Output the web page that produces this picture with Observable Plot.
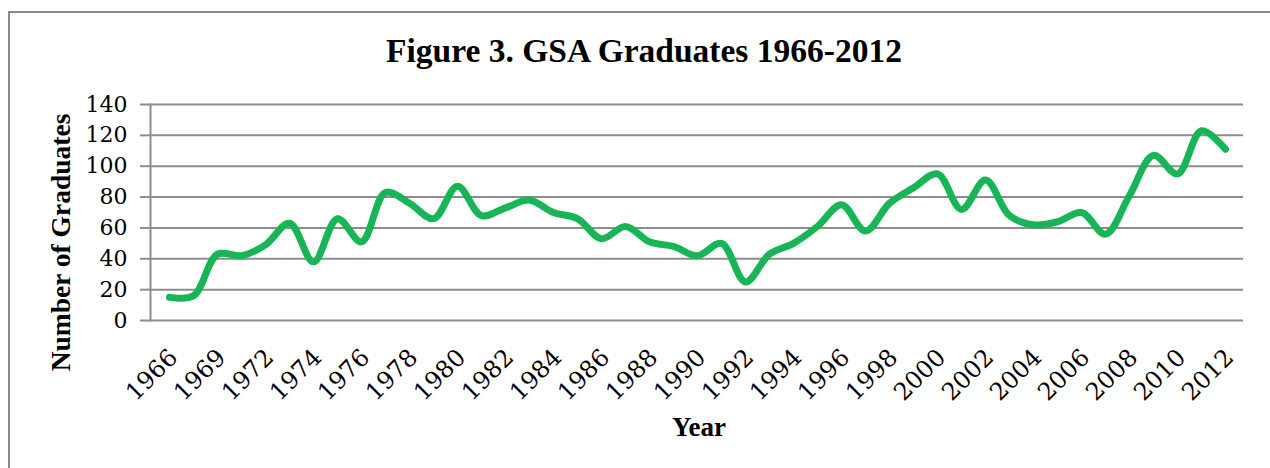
<!DOCTYPE html>
<html>
<head>
<meta charset="utf-8">
<script src="https://cdn.jsdelivr.net/npm/d3@7"></script>
<script src="https://cdn.jsdelivr.net/npm/@observablehq/plot@0.6"></script>
<style>
  html, body { margin: 0; padding: 0; background: #fff; }
  #wrap { position: relative; width: 1270px; height: 468px; overflow: hidden; }
  #border { position: absolute; left: 8px; top: 11px; width: 1300px; height: 500px; border: 2px solid #8a8a8a; box-sizing: border-box; }
  #titlebox { position: relative; height: 90px; }
  #title { position: absolute; left: 0; width: 1288px; top: 34px; line-height: 33px; text-align: center;
           font-family: "Liberation Serif", serif; font-weight: bold; font-size: 33.5px; color: #000; }
  #chart { position: relative; }
  #chart svg { overflow: visible; }
</style>
</head>
<body>
<div id="wrap">
  <div id="border"></div>
  <div id="titlebox"><div id="title">Figure 3. GSA Graduates 1966-2012</div></div>
  <div id="chart"></div>
</div>
<script>
const years = ["1966","1967","1969","1970","1972","1973","1974","1975","1976","1977","1978","1979","1980","1981","1982","1983","1984","1985","1986","1987","1988","1989","1990","1991","1992","1993","1994","1995","1996","1997","1998","1999","2000","2001","2002","2003","2004","2005","2006","2007","2008","2009","2010","2011","2012"];
const graduates = [15,16,43,42,49,63,38,66,51,83,76,66,87,68,73,78,70,66,53,61,51,48,42,50,25,43,50,61,75,58,76,86,95,72,91,68,62,64,70,56,81,107,95,123,111];
const yTicks = [0,20,40,60,80,100,120,140];
const xLabels = years.filter((d, i) => i % 2 === 0);

const data = years.map((y, i) => ({year: y, value: graduates[i]}));
const grid = "#8c8c8c";

const chart = Plot.plot({
  width: 1270,
  height: 378,
  marginTop: 14,
  marginBottom: 148,
  marginLeft: 150,
  marginRight: 27,
  style: {fontFamily: "DejaVu Serif", fontSize: "22px", color: "#000", background: "transparent", overflow: "visible"},
  x: {type: "point", domain: years, padding: 0.5, axis: null},
  y: {domain: [0, 140], axis: null},
  marks: [
    Plot.gridY(yTicks, {stroke: grid, strokeOpacity: 1, strokeWidth: 2}),
    Plot.axisY({ticks: yTicks, tickSize: 10, tickPadding: 13, stroke: grid, strokeWidth: 2, label: null, tickFormat: d => d, fill: "#000"}),
    Plot.frame({anchor: "left", stroke: grid, strokeWidth: 2}),
    Plot.text(xLabels, {x: d => d, frameAnchor: "bottom", rotate: -45, textAnchor: "end", lineAnchor: "middle", dx: 4, dy: 33, fontSize: 24, fill: "#000"}),
    Plot.text(["Number of Graduates"], {frameAnchor: "left", textAnchor: "middle", lineAnchor: "middle", dx: -89, dy: 30, rotate: -90, fontFamily: "Liberation Serif", fontWeight: "bold", fontSize: 27.5, fill: "#000"}),
    Plot.text(["Year"], {frameAnchor: "bottom", textAnchor: "middle", lineAnchor: "middle", dx: 2, dy: 107, fontFamily: "Liberation Serif", fontWeight: "bold", fontSize: 27, fill: "#000"}),
    Plot.line(data, {x: "year", y: "value", curve: "catmull-rom", stroke: "#17b556", strokeWidth: 7, strokeLinecap: "round", strokeLinejoin: "round"})
  ]
});
document.getElementById("chart").appendChild(chart);
</script>
</body>
</html>
